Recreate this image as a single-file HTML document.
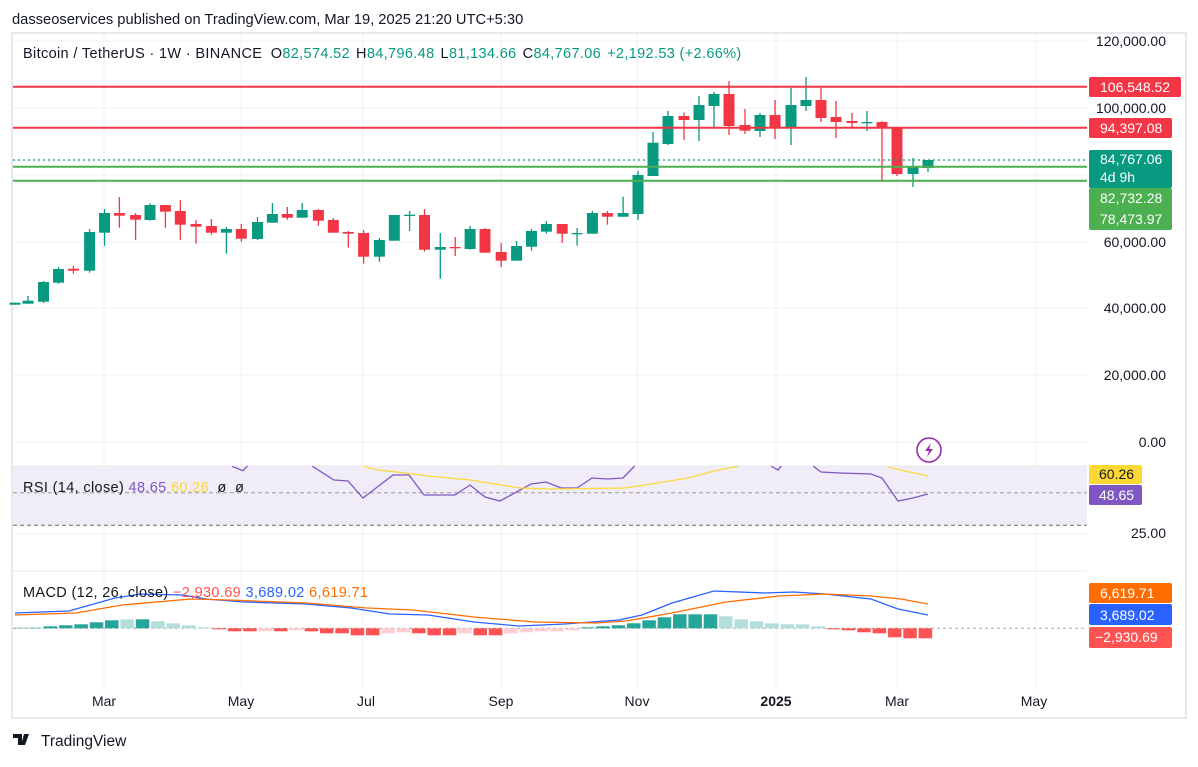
<!DOCTYPE html>
<html><head><meta charset="utf-8">
<style>
body{margin:0;background:#fff;width:1198px;height:762px;overflow:hidden;font-family:"Liberation Sans",sans-serif}
svg text{font-family:"Liberation Sans",sans-serif}
</style></head><body>
<svg id="s" width="1198" height="762" viewBox="0 0 1198 762" xmlns="http://www.w3.org/2000/svg">
<rect x="0" y="0" width="1198" height="762" fill="#fff"/>
<text x="12" y="24" font-size="14.7" fill="#131722">dasseoservices published on TradingView.com, Mar 19, 2025 21:20 UTC+5:30</text>
<rect x="12" y="33" width="1174" height="685" fill="none" stroke="#e6e8ee" stroke-width="2"/>
<rect x="13" y="466" width="1074" height="59" fill="#f0ecf8"/>
<g id="grid" stroke="#f0f1f4" stroke-width="1"></g>
<line x1="13" y1="466" x2="1087" y2="466" stroke="#e6e8ee"/>
<line x1="13" y1="571" x2="1087" y2="571" stroke="#e6e8ee"/>
<line x1="13" y1="492.7" x2="1087" y2="492.7" stroke="#999" stroke-dasharray="4,3"/>
<line x1="13" y1="525.3" x2="1087" y2="525.3" stroke="#666" stroke-dasharray="4,3"/>
<line x1="13" y1="628.3" x2="1087" y2="628.3" stroke="#aaa" stroke-dasharray="3,3"/>
<g id="hist"></g>
<g id="candles"></g>
<line x1="13" y1="86.7" x2="1087" y2="86.7" stroke="#f23645" stroke-width="2"/>
<line x1="13" y1="127.7" x2="1087" y2="127.7" stroke="#f23645" stroke-width="2"/>
<line x1="13" y1="160" x2="1087" y2="160" stroke="#089981" stroke-width="1.3" stroke-dasharray="2,3"/>
<line x1="13" y1="166.7" x2="1087" y2="166.7" stroke="#4caf50" stroke-width="2"/>
<line x1="13" y1="180.7" x2="1087" y2="180.7" stroke="#4caf50" stroke-width="2"/>
<clipPath id="rc"><rect x="13" y="466" width="1074" height="105"/></clipPath>
<g clip-path="url(#rc)" fill="none" stroke-width="1.3">
<polyline stroke="#7e57c2" points="225,455 233,466.7 243,470.7 253,460 305,455 313,466.7 334,480 348,481 363,498 393,475 409,475 424,495 455,495 470,485 485,497 500,501 531,484 546,482 561,488 577,488 592,478 607,479 623,478 634,466.7 640,455 765,455 772,466.7 778,470 786,460 808,455 814,466.7 821,472 840,473 871,474 882,478 898,501 913,498 928,494"/>
<polyline stroke="#fdd835" points="355,460 365,466.7 378,470 397,472 428,476 470,480 520,488 550,489 625,488 657,483 688,478 718,470 737,466.7 745,460 880,460 890,467.7 928,476"/>
</g>
<g fill="none" stroke-width="1.3">
<polyline stroke="#2962ff" points="15,613 69,611 115,598 141,594 183,595 206,599 244,602 306,604 351,608 390,614 428,615 474,622 519,626 565,624 619,620 642,615 672,603 714,591 764,593 794,592 825,594 871,599 898,609 928,615"/>
<polyline stroke="#ff6d00" points="15,615 76,613 122,605 191,599 229,600 306,603 367,608 413,610 474,617 535,622 596,623 626,621 672,613 726,602 779,596 825,594 871,596 901,599 928,604"/>
</g>
<circle cx="929" cy="450" r="12" fill="#fff" stroke="#9c27b0" stroke-width="1.6"/>
<path d="M931 443 L925 451 L929 451 L927 457 L933 449 L929 449 Z" fill="#9c27b0"/>
<text x="23" y="58" font-size="14.5" letter-spacing="0.35" fill="#131722">Bitcoin / TetherUS · 1W · BINANCE <tspan dx="4">O</tspan><tspan fill="#089981">82,574.52</tspan><tspan dx="6">H</tspan><tspan fill="#089981">84,796.48</tspan><tspan dx="6">L</tspan><tspan fill="#089981">81,134.66</tspan><tspan dx="6">C</tspan><tspan fill="#089981">84,767.06</tspan><tspan dx="6" fill="#089981">+2,192.53 (+2.66%)</tspan></text>
<text x="23" y="492" font-size="14.5" letter-spacing="0.35" fill="#131722">RSI (14, close) <tspan fill="#7e57c2">48.65</tspan> <tspan fill="#fdd835">60.26</tspan> <tspan dx="4">ø</tspan> <tspan dx="4">ø</tspan></text>
<text x="23" y="597" font-size="14.5" letter-spacing="0.35" fill="#131722">MACD (12, 26, close) <tspan fill="#ff5252">−2,930.69</tspan> <tspan fill="#2962ff">3,689.02</tspan> <tspan fill="#ff6d00">6,619.71</tspan></text>
<g font-size="14" fill="#131722" text-anchor="end">
<text x="1166" y="46">120,000.00</text>
<text x="1166" y="113">100,000.00</text>
<text x="1166" y="247">60,000.00</text>
<text x="1166" y="313">40,000.00</text>
<text x="1166" y="380">20,000.00</text>
<text x="1166" y="447">0.00</text>
<text x="1166" y="538">25.00</text>
</g>
<g font-size="14" text-anchor="start" fill="#fff">
<rect x="1089" y="77" width="92" height="20" rx="2" fill="#f23645"/><text x="1100" y="92">106,548.52</text>
<rect x="1089" y="118" width="83" height="20" rx="2" fill="#f23645"/><text x="1100" y="133">94,397.08</text>
<rect x="1089" y="150" width="83" height="38" rx="2" fill="#089981"/><text x="1100" y="164">84,767.06</text><text x="1100" y="182">4d 9h</text>
<rect x="1089" y="188" width="83" height="42" rx="2" fill="#4caf50"/><text x="1100" y="203">82,732.28</text><text x="1100" y="224">78,473.97</text>
<rect x="1089" y="465" width="53" height="19" rx="2" fill="#fdd835"/><text x="1099" y="479" fill="#131722">60.26</text>
<rect x="1089" y="485" width="53" height="20" rx="2" fill="#7e57c2"/><text x="1099" y="500">48.65</text>
<rect x="1089" y="583" width="83" height="20" rx="2" fill="#ff6d00"/><text x="1100" y="598">6,619.71</text>
<rect x="1089" y="604" width="83" height="21" rx="2" fill="#2962ff"/><text x="1100" y="620">3,689.02</text>
<rect x="1089" y="627" width="83" height="21" rx="2" fill="#ff5252"/><text x="1095" y="642">−2,930.69</text>
</g>
<g font-size="14" fill="#131722" text-anchor="middle">
<text x="104" y="706">Mar</text><text x="241" y="706">May</text><text x="366" y="706">Jul</text><text x="501" y="706">Sep</text><text x="637" y="706">Nov</text><text x="776" y="706" font-weight="bold">2025</text><text x="897" y="706">Mar</text><text x="1034" y="706">May</text>
</g>
<path d="M13 734 h9 v11 h-4 v-7 h-5z M24 734 h5 l-4 11 h-4z" fill="#131722"/>
<text x="41" y="746" font-size="15.5" fill="#131722">TradingView</text>
</svg>
<script>
var NS="http://www.w3.org/2000/svg";
function el(p,t,a){var e=document.createElementNS(NS,t);for(var k in a)e.setAttribute(k,a[k]);p.appendChild(e);return e;}
var g=document.getElementById('grid');
[104,241,363,501,637,776,897,1036].forEach(function(x){el(g,'line',{x1:x,y1:34,x2:x,y2:690});});
[41,108,175,242,308,375,442,534].forEach(function(y){el(g,'line',{x1:13,y1:y,x2:1087,y2:y});});
var C=[[15,302.7,304.7,302.7,304.7,1],[28,300.7,303.7,296,303.7,1],[43.5,282,301.7,281,303,1],[58.5,269,282.7,267,283.7,1],[73.4,268.7,270.7,266,273.7,0],[89.6,232,270.7,229,272.7,1],[104.5,213,232.7,209,245.7,1],[119.4,213,215.7,197,227.7,0],[135.6,215,219.7,213,240,0],[150,205,220,203.3,220.7,1],[165.4,205,211.7,205,227.7,0],[180.3,211,224.7,200,240,0],[196,224,226.7,220,243.7,0],[211.4,226,232.7,219,234.7,0],[226.4,229,232.7,227,253.7,1],[241.3,229,238.7,224,241.7,0],[257.5,222,239,217,240,1],[272.4,214,222.7,203,222.7,1],[287.3,214,217.7,207,219.7,0],[302.2,210,217.7,203,217.7,1],[318.4,210,220.7,209,225.7,0],[333.3,220,232.7,218,232.7,0],[348.3,232,233.7,231,247.7,0],[363.6,233,256.7,230,263.7,0],[379.4,240,256.7,238,261.7,1],[394.3,215,240.7,215,240.7,1],[409.6,214.7,215.7,211,231,1],[424.5,215,249.7,209,251.7,0],[440.3,247,249.7,233,278.7,1],[455.2,247,248,237,256,0],[470.1,229,249,226,249.7,1],[485,229,252.7,228,252.7,0],[501.2,252,260.7,243,267,0],[516.6,246,260.7,241,260.7,1],[531.5,231,246.7,229,250.7,1],[546.4,224,231.7,221,233.7,1],[562.2,224,233.7,224,243,0],[577.1,233,233.7,228,245.7,1],[592.4,213,233.7,211,233.7,1],[607.4,213,216.7,211,224.7,0],[623.1,213,216.7,196.7,216.7,1],[638,175,214,171,220,1],[653,142.7,176,132,176,1],[668,116,144,111,145,1],[684,116,120,112.7,140,0],[699,105,120,96,141,1],[714,94,106,92,128.7,1],[729,94,126,81,135,0],[745,125,130.7,109,134,0],[760,115,131,113,137,1],[775,115,127.7,100,139,0],[791,105,127.3,88,145,1],[806,100,106,77,111,1],[821,100,118,88,122,0],[836,117,122,101,138,0],[852,121,123,113,127,0],[867,122,123,111,131,1],[882,122,128,121,182,0],[897,128,174,128,176,0],[913,166.7,174,158,187,1],[928,160,168,160,172,1]];
var cg=document.getElementById('candles');
C.forEach(function(c){var col=c[5]?'#089981':'#f23645';
el(cg,'line',{x1:c[0],y1:c[3],x2:c[0],y2:c[4],stroke:col,'stroke-width':1.3});
el(cg,'rect',{x:c[0]-5.5,y:c[1],width:11,height:Math.max(1.3,c[2]-c[1]),fill:col});});
var H=[0.5,0.5,2,3,4,6,8,9,9,7,5,3,1,1,3,3,3,3,2,3,5,5,7,7,5,4,5,7,7,5,7,7,5,4,3,3,2,1,2,3,5,8,11,14,14,14,12,9,7,5,4,4,2,1,2,4,5,9,10,10];
var HC=['t','t','t','t','t','t','t','lt','t','lt','lt','lt','lt','r','r','r','lr','r','lr','r','r','r','r','r','lr','lr','r','r','r','lr','r','r','lr','lr','lr','lr','lr','t','t','t','t','t','t','t','t','t','lt','lt','lt','lt','lt','lt','lt','r','r','r','r','r','r','r'];
var hg=document.getElementById('hist');var col={t:'#26a69a',lt:'#b2dfdb',r:'#ff5252',lr:'#ffcdd2'};
H.forEach(function(a,i){var neg=(HC[i]=='r'||HC[i]=='lr');var x=12+i*15.35;
el(hg,'rect',{x:x+1,y:neg?628.3:628.3-a,width:13.5,height:a,fill:col[HC[i]]});});
</script>
</body></html>
